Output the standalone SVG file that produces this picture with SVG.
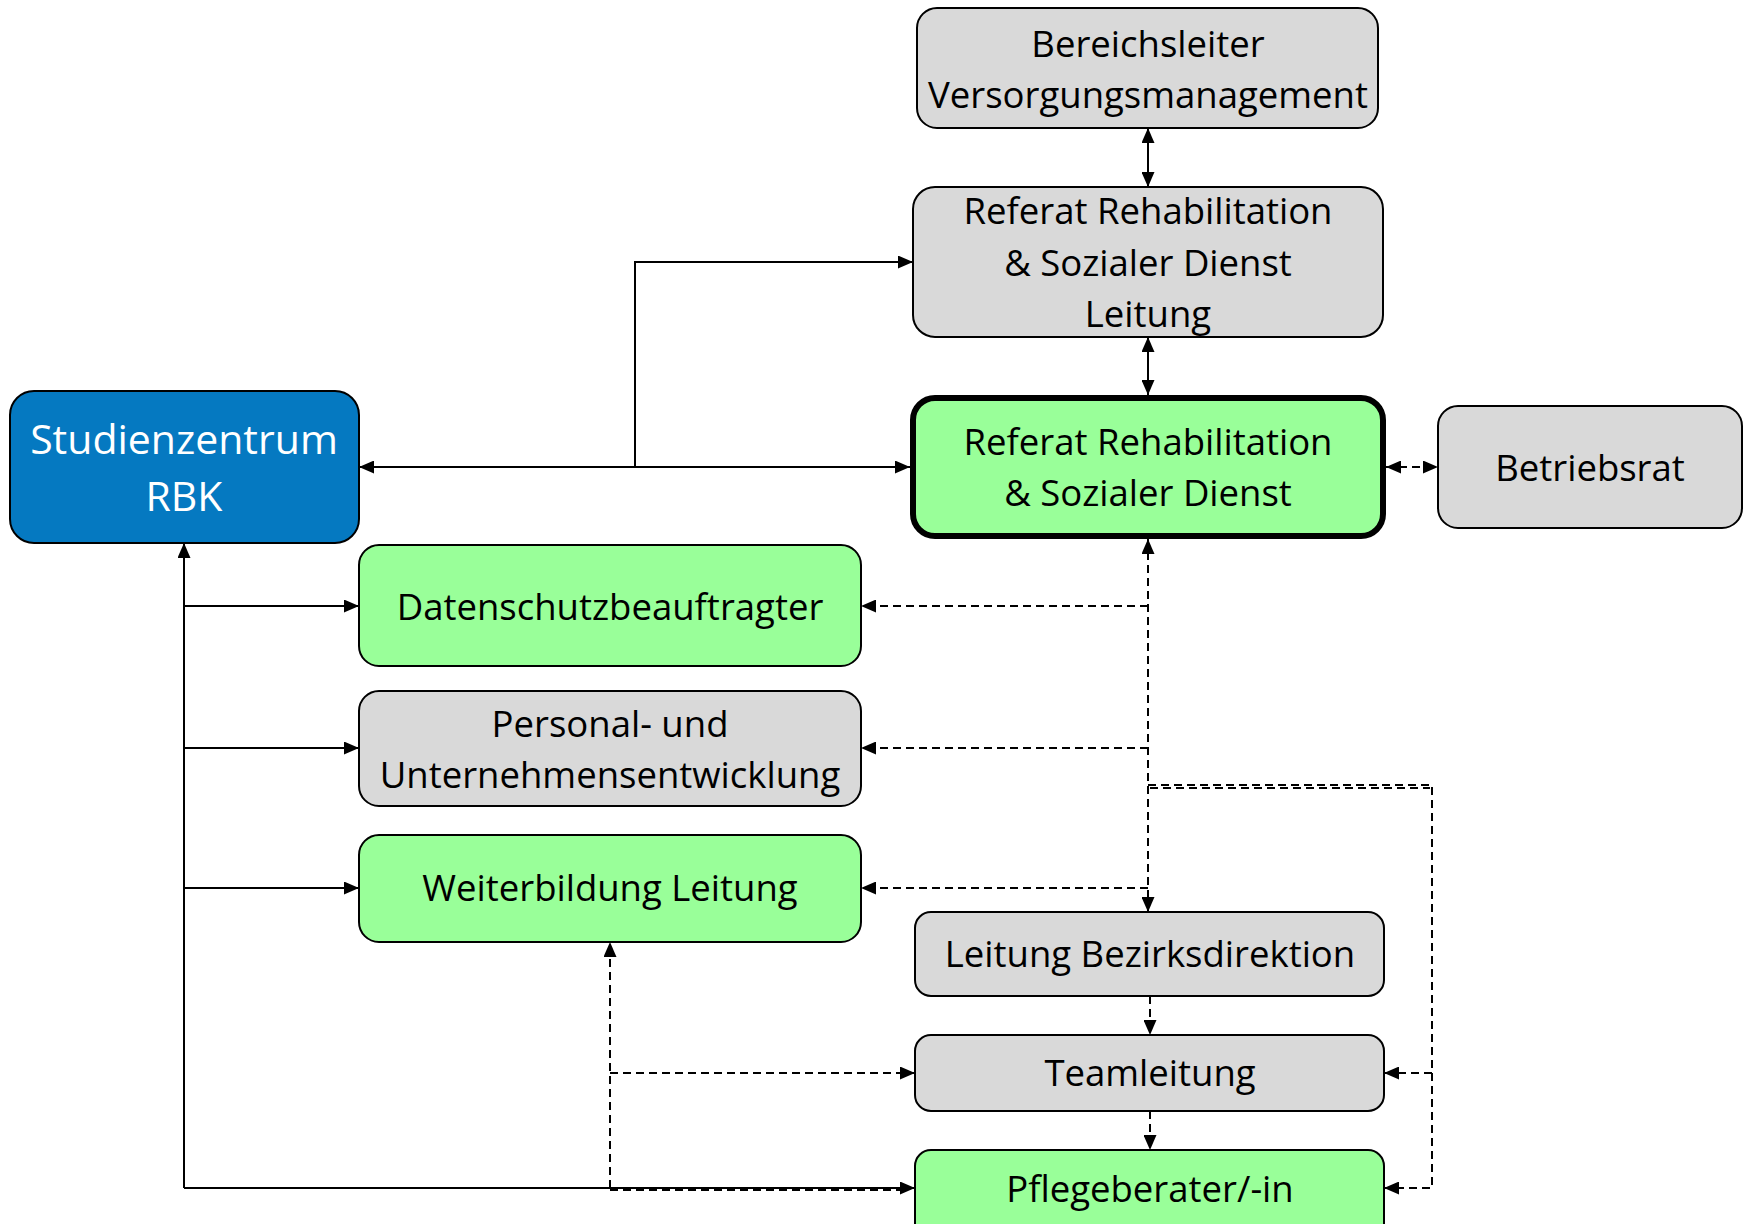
<svg xmlns="http://www.w3.org/2000/svg" width="1744" height="1224" viewBox="0 0 1744 1224">
<style>
.box{stroke:#000;stroke-width:2}
.gray{fill:#D9D9D9}
.green{fill:#99FF99}
.blue{fill:#0579C1}
.t{font-family:"Open Sans","Liberation Sans",sans-serif;font-size:36.5px;fill:#000;text-anchor:middle}
.tw{fill:#fff;font-size:41px}
.c{fill:none;stroke:#000;stroke-width:2}
.d{stroke-dasharray:8 5}
</style>
<defs>
<marker id="a" viewBox="0 0 15 13" refX="15" refY="6.5" markerWidth="15" markerHeight="13" markerUnits="userSpaceOnUse" orient="auto-start-reverse">
<path d="M0,0 L15,6.5 L0,13 z" fill="#000"/>
</marker>
</defs>
<g id="connectors">
<line class="c" x1="1148" y1="128" x2="1148" y2="187" marker-start="url(#a)" marker-end="url(#a)"/>
<line class="c" x1="1148" y1="337" x2="1148" y2="395" marker-start="url(#a)" marker-end="url(#a)"/>
<line class="c" x1="359" y1="467" x2="910" y2="467" marker-start="url(#a)" marker-end="url(#a)"/>
<path class="c" d="M635,467 V262 H913" marker-end="url(#a)"/>
<line class="c d" x1="1386" y1="467" x2="1438" y2="467" marker-start="url(#a)" marker-end="url(#a)"/>
<path class="c" d="M184,1188 V543" marker-end="url(#a)"/>
<path class="c" d="M184,606 H359" marker-end="url(#a)"/>
<path class="c" d="M184,748 H359" marker-end="url(#a)"/>
<path class="c" d="M184,888 H359" marker-end="url(#a)"/>
<path class="c" d="M184,1188 H915" marker-end="url(#a)"/>
<line class="c d" x1="1148" y1="539" x2="1148" y2="912" marker-start="url(#a)" marker-end="url(#a)"/>
<path class="c d" d="M1148,606 H861" marker-end="url(#a)"/>
<path class="c d" d="M1148,748 H861" marker-end="url(#a)"/>
<path class="c d" d="M1148,888 H861" marker-end="url(#a)"/>
<path class="c d" d="M1148,785 H1432 V1188 H1384" marker-end="url(#a)"/>
<path class="c d" d="M1150,788 H1430"/>
<path class="c d" d="M1432,1073 H1384" marker-end="url(#a)"/>
<path class="c d" d="M1150,996 V1035" marker-end="url(#a)"/>
<path class="c d" d="M1150,1111 V1150" marker-end="url(#a)"/>
<path class="c d" d="M610,1188 V942" marker-end="url(#a)"/>
<path class="c d" d="M610,1073 H915" marker-end="url(#a)"/>
<path class="c d" d="M610,1190 H905"/>
</g>
<g id="bereich"><rect class="box gray" x="917" y="8" width="461" height="120" rx="20"/><text class="t" x="1148" y="57">Bereichsleiter</text><text class="t" x="1148" y="108">Versorgungsmanagement</text></g>
<g id="refLeitung"><rect class="box gray" x="913" y="187" width="470" height="150" rx="22"/><text class="t" x="1148" y="224">Referat Rehabilitation</text><text class="t" x="1148" y="276">&amp; Sozialer Dienst</text><text class="t" x="1148" y="327">Leitung</text></g>
<g id="studien"><rect class="box blue" x="10" y="391" width="349" height="152" rx="24"/><text class="t tw" x="184" y="454">Studienzentrum</text><text class="t tw" x="184" y="511">RBK</text></g>
<g id="main"><rect class="green" x="913" y="398" width="470" height="138" rx="22" stroke="#000" stroke-width="6"/><text class="t" x="1148" y="455">Referat Rehabilitation</text><text class="t" x="1148" y="506">&amp; Sozialer Dienst</text></g>
<g id="betriebsrat"><rect class="box gray" x="1438" y="406" width="304" height="122" rx="20"/><text class="t" x="1590" y="481">Betriebsrat</text></g>
<g id="datenschutz"><rect class="box green" x="359" y="545" width="502" height="121" rx="20"/><text class="t" x="610" y="620">Datenschutzbeauftragter</text></g>
<g id="personal"><rect class="box gray" x="359" y="691" width="502" height="115" rx="20"/><text class="t" x="610" y="737">Personal- und</text><text class="t" x="610" y="788">Unternehmensentwicklung</text></g>
<g id="weiter"><rect class="box green" x="359" y="835" width="502" height="107" rx="20"/><text class="t" x="610" y="901">Weiterbildung Leitung</text></g>
<g id="bezirk"><rect class="box gray" x="915" y="912" width="469" height="84" rx="16"/><text class="t" x="1150" y="967">Leitung Bezirksdirektion</text></g>
<g id="team"><rect class="box gray" x="915" y="1035" width="469" height="76" rx="16"/><text class="t" x="1150" y="1086">Teamleitung</text></g>
<g id="pflege"><rect class="box green" x="915" y="1150" width="469" height="90" rx="16"/><text class="t" x="1150" y="1202">Pflegeberater/-in</text></g>
</svg>
